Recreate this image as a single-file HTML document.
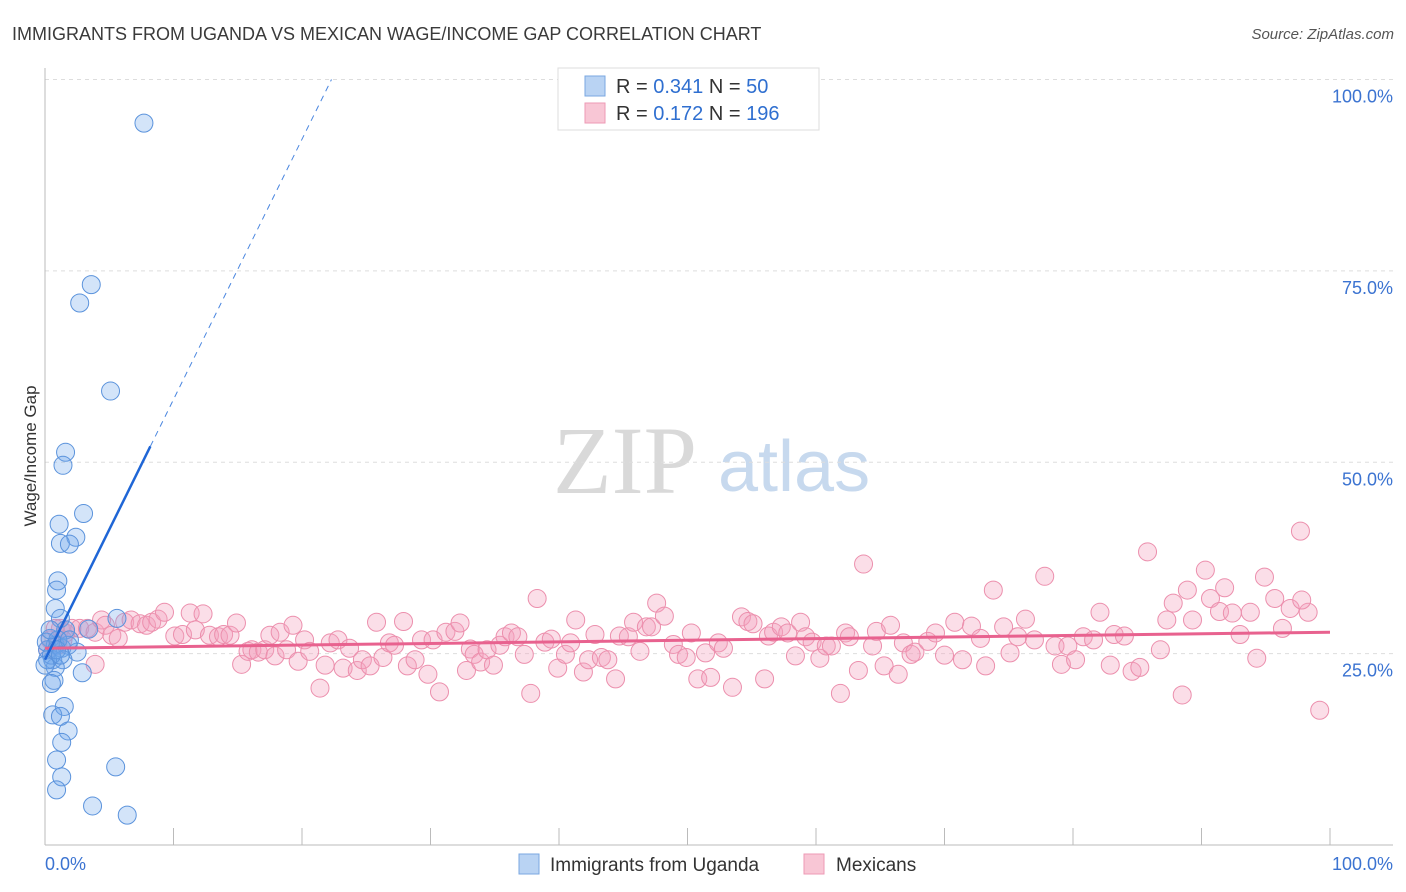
<!DOCTYPE html>
<html><head><meta charset="utf-8"><style>
body{margin:0;background:#fff;font-family:"Liberation Sans",sans-serif}
svg{display:block}
</style></head><body>
<svg id="chart" width="1406" height="892" viewBox="0 0 1406 892">
<text x="12" y="40" font-size="18" fill="#3a3a3a">IMMIGRANTS FROM UGANDA VS MEXICAN WAGE/INCOME GAP CORRELATION CHART</text>
<text x="1394" y="39" font-size="15" fill="#555" text-anchor="end" font-style="italic">Source: ZipAtlas.com</text>
<g>
<text x="553" y="493" font-size="96" font-family="Liberation Serif,serif" fill="#d9d9d9">ZIP</text>
<text x="718" y="491" font-size="72" fill="#c7d9ee">atlas</text>
</g>
<g id="grid"></g>
<g id="axes"></g>
<g id="marks"></g>
<text x="36" y="456" font-size="17" fill="#333" transform="rotate(-90 36 456)" text-anchor="middle">Wage/Income Gap</text>
<g>
<rect x="558" y="68" width="261" height="62" fill="#fff" stroke="#ddd"/>
<rect x="585" y="76" width="20" height="20" fill="#b9d3f3" stroke="#7aa7e0"/>
<rect x="585" y="103" width="20" height="20" fill="#f8c6d5" stroke="#ee9ab5"/>
<text x="616" y="93" font-size="20" fill="#333">R = <tspan fill="#2f6fd0">0.341</tspan>   N = <tspan fill="#2f6fd0"> 50</tspan></text>
<text x="616" y="120" font-size="20" fill="#333">R = <tspan fill="#2f6fd0">0.172</tspan>   N = <tspan fill="#2f6fd0">196</tspan></text>
</g>
<g>
<rect x="519" y="854" width="20" height="20" fill="#b9d3f3" stroke="#7aa7e0"/>
<text x="550" y="871" font-size="19" fill="#333">Immigrants from Uganda</text>
<rect x="804" y="854" width="20" height="20" fill="#f8c6d5" stroke="#ee9ab5"/>
<text x="836" y="871" font-size="19" fill="#333">Mexicans</text>
</g>
</svg>
<script>
const yTicks=[25,50,75,100];
const yTickLabels=["25.0%","50.0%","75.0%","100.0%"];
const xTicks=[0,10,20,30,40,50,60,70,80,90,100];
const blueX=[7.7,3.6,2.7,5.1,1.6,1.4,3.0,1.1,2.4,1.2,1.9,1.0,0.9,0.8,5.6,1.2,3.4,1.6,0.4,0.8,0.2,1.3,1.8,2.5,0.6,1.4,0.8,2.9,0.7,0.5,1.5,0.6,1.2,1.8,1.3,0.9,5.5,1.3,0.9,3.7,6.4,0.1,0.5,1.0,0.2,1.9,0.4,0.9,0.0,1.2];
const blueY=[94.3,73.2,70.8,59.3,51.3,49.6,43.3,41.9,40.2,39.4,39.3,34.5,33.3,30.9,29.6,29.6,28.2,28.1,27.0,26.1,25.5,25.7,26.1,25.2,24.2,24.2,23.2,22.5,21.5,21.1,18.1,17.0,16.8,14.9,13.4,11.1,10.2,8.9,7.2,5.1,3.9,26.5,24.8,26.8,24.2,26.8,28.1,25.5,23.5,24.8];
const pinkX=[1.2,1.6,2.1,2.7,3.3,3.9,4.4,4.7,5.2,5.7,6.2,6.7,7.4,7.9,8.3,8.8,9.3,10.1,10.7,11.3,11.7,12.3,12.8,13.5,13.9,14.4,14.9,15.3,15.8,16.1,16.6,17.1,17.5,17.9,18.3,18.8,19.3,19.7,20.2,20.6,21.4,21.8,22.2,22.8,23.2,23.7,24.3,24.7,25.3,25.8,26.3,26.8,27.2,27.9,28.2,28.8,29.3,29.8,30.2,30.7,31.2,31.9,32.3,32.8,33.1,33.4,33.9,34.4,34.9,35.4,35.8,36.3,36.8,37.3,37.8,38.3,38.9,39.4,39.9,40.5,40.9,41.3,41.9,42.3,42.8,43.3,43.8,44.4,44.7,45.4,45.8,46.3,46.8,47.2,47.6,48.2,48.9,49.3,49.9,50.3,50.8,51.4,51.8,52.4,52.8,53.5,54.2,54.7,55.1,56.0,56.3,56.7,57.3,57.8,58.4,58.8,59.2,59.7,60.3,60.8,61.2,61.9,62.3,62.6,63.3,63.7,64.4,64.7,65.3,65.8,66.4,66.8,67.4,67.7,68.7,69.3,70.0,70.8,71.4,72.1,72.8,73.2,73.8,74.6,75.1,75.7,76.3,77.0,77.8,78.6,79.1,79.6,80.2,80.8,81.6,82.1,82.9,83.2,84.0,84.6,85.2,85.8,86.8,87.3,87.8,88.5,88.9,89.3,90.3,90.7,91.4,91.8,92.4,93.0,93.8,94.3,94.9,95.7,96.3,96.9,97.7,98.3,99.2,97.8,3.9,0.4,0.8,1.0,0.2,1.4];
const pinkY=[28.3,27.7,28.3,28.3,28.3,27.8,29.4,28.7,27.4,27.0,29.1,29.4,28.9,28.7,29.1,29.5,30.4,27.3,27.5,30.3,28.1,30.2,27.4,27.2,27.5,27.4,29.0,23.6,25.3,25.5,25.2,25.5,27.4,24.7,27.8,25.5,28.7,24.0,26.8,25.3,20.5,23.5,26.4,26.8,23.1,25.7,22.8,24.2,23.4,29.1,24.5,26.4,26.1,29.2,23.4,24.2,26.8,22.3,26.8,20.0,27.8,27.9,29.0,22.8,25.6,24.9,23.9,25.5,23.5,26.1,27.2,27.7,27.2,24.9,19.8,32.2,26.5,26.9,23.1,24.9,26.4,29.4,22.6,24.2,27.5,24.5,24.2,21.7,27.3,27.2,29.1,25.3,28.5,28.5,31.6,29.9,26.2,24.9,24.5,27.7,21.7,25.1,21.9,26.4,25.7,20.6,29.8,29.2,28.9,21.7,27.3,27.8,28.5,27.7,24.7,29.1,27.2,26.5,24.4,26.0,26.0,19.8,27.7,27.2,22.8,36.7,26.0,27.9,23.4,28.7,22.3,26.4,24.9,25.2,26.6,27.7,24.8,29.1,24.2,28.6,27.0,23.4,33.3,28.5,25.1,27.2,29.5,26.8,35.1,26.0,23.6,26.0,24.2,27.2,26.8,30.4,23.5,27.5,27.3,22.7,23.2,38.3,25.5,29.4,31.6,19.6,33.3,29.4,35.9,32.2,30.5,33.6,30.3,27.5,30.4,24.4,35.0,32.2,28.3,30.9,41.0,30.4,17.6,32.0,23.6,26.8,28.3,26.1,25.5,26.8];
const blueTrend=[24.2,3.4]; // intercept, slope
const pinkTrend=[25.7,27.8]; // y at x=0, y at x=100
const NS="http://www.w3.org/2000/svg";
const X0=45,X1=1330,Y0=845,Y100=79.5;
function sx(v){return X0+(X1-X0)*v/100;}
function sy(v){return Y0-(Y0-Y100)*v/100;}
function mk(tag,attrs,parent){const e=document.createElementNS(NS,tag);for(const k in attrs)e.setAttribute(k,attrs[k]);parent.appendChild(e);return e;}
const grid=document.getElementById('grid'),axes=document.getElementById('axes'),marks=document.getElementById('marks');
yTicks.forEach((t,i)=>{
 const l=mk('line',{x1:X0,x2:1393,y1:sy(t),y2:sy(t),stroke:'#ddd','stroke-dasharray':'4,4'},grid);
 
 
 const tx=mk('text',{x:1393,y:sy(t)+23,'font-size':18,fill:'#3b73d1','text-anchor':'end'},axes);
 tx.textContent=yTickLabels[i];
 
 
});
let a=mk('line',{x1:X0,x2:X0,y1:68,y2:Y0,stroke:'#bbb'},axes);


a=mk('line',{x1:X0,x2:1393,y1:Y0,y2:Y0,stroke:'#bbb'},axes);


xTicks.forEach(t=>{
 const l=mk('line',{x1:sx(t),x2:sx(t),y1:828,y2:Y0,stroke:'#bbb'},axes);
 
 
});
let t1=mk('text',{x:45,y:870,'font-size':18,fill:'#3b73d1'},axes);t1.textContent='0.0%';


let t2=mk('text',{x:1393,y:870,'font-size':18,fill:'#3b73d1','text-anchor':'end'},axes);t2.textContent='100.0%';


pinkX.forEach((v,i)=>{
 const c=mk('circle',{cx:sx(v),cy:sy(pinkY[i]),r:9,fill:'rgba(244,160,188,0.35)',stroke:'#ec8fad','stroke-width':1},marks);
 
 
});
blueX.forEach((v,i)=>{
 const c=mk('circle',{cx:sx(v),cy:sy(blueY[i]),r:9,fill:'rgba(110,165,235,0.3)',stroke:'#5b93dc','stroke-width':1},marks);
 
 
});
let pl=mk('line',{x1:sx(0),x2:sx(100),y1:sy(pinkTrend[0]),y2:sy(pinkTrend[1]),stroke:'#e8628f','stroke-width':3},marks);


const bMax=Math.max(...blueX)+0.5;
const xEnd=(100-blueTrend[0])/blueTrend[1];
let bl=mk('line',{x1:sx(0),y1:sy(blueTrend[0]),x2:sx(bMax),y2:sy(blueTrend[0]+blueTrend[1]*bMax),stroke:'#1f66d6','stroke-width':2.5},marks);


let bd=mk('line',{x1:sx(bMax),y1:sy(blueTrend[0]+blueTrend[1]*bMax),x2:sx(xEnd),y2:sy(100),stroke:'#4a86df','stroke-width':1,'stroke-dasharray':'6,5'},marks);


</script>
</body></html>
